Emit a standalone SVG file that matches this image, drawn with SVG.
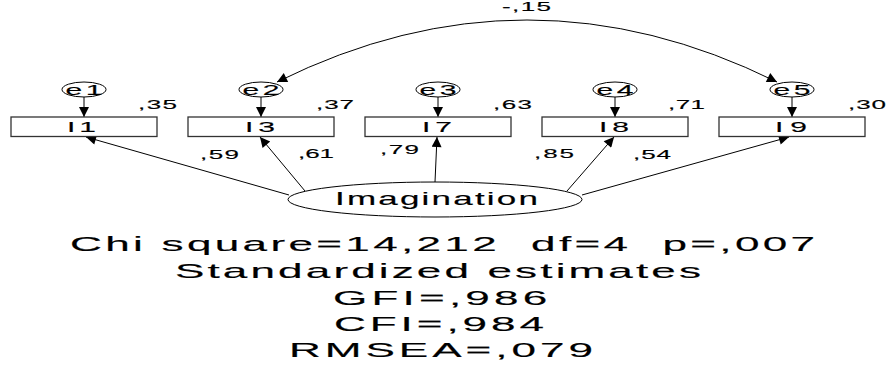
<svg xmlns="http://www.w3.org/2000/svg" width="888" height="368" viewBox="0 0 888 368">
<style>
text{font-family:"Liberation Sans",Arial,sans-serif;fill:#000;white-space:pre;stroke:#000;stroke-width:0.15}
.box{fill:#fff;stroke:#333;stroke-width:1.3}
.err{fill:#fff;stroke:#000;stroke-width:1}
.lat{fill:#fff;stroke:#000;stroke-width:1}
.c{fill:none;stroke:#000;stroke-width:1}
.lab{font-size:13px}
.obs{font-size:15px}
.big{font-size:21px;stroke-width:0.15}
</style>
<defs>
<marker id="ah" viewBox="0 0 10 10" refX="10" refY="5" markerWidth="12" markerHeight="10" markerUnits="userSpaceOnUse" orient="auto-start-reverse">
<path d="M0,0 L10,5 L0,10 z" fill="#000"/>
</marker>
</defs>
<rect width="888" height="368" fill="#fff"/>

<g id="connectors">
<path class="c" d="M84,97 L84,117" marker-end="url(#ah)"/>
<path class="c" d="M261,97 L261,117" marker-end="url(#ah)"/>
<path class="c" d="M438,97 L438,117" marker-end="url(#ah)"/>
<path class="c" d="M615,97 L615,117" marker-end="url(#ah)"/>
<path class="c" d="M792,97 L792,117" marker-end="url(#ah)"/>
<path class="c" d="M289,195 L86,137" marker-end="url(#ah)"/>
<path class="c" d="M305,191 L260,137" marker-end="url(#ah)"/>
<path class="c" d="M435,182 L437,137" marker-end="url(#ah)"/>
<path class="c" d="M567,191 L614,137" marker-end="url(#ah)"/>
<path class="c" d="M582,195 L789,137" marker-end="url(#ah)"/>
<path class="c" d="M277,82 Q527,-42 777,82" marker-start="url(#ah)" marker-end="url(#ah)"/>
<text class="lab" transform="translate(502,11) scale(2,1)" textLength="24.5" lengthAdjust="spacing">-,15</text>
<text class="lab" transform="translate(200,159) scale(2,1)" textLength="19.5" lengthAdjust="spacing">,59</text>
<text class="lab" transform="translate(298,158) scale(2,1)" textLength="18" lengthAdjust="spacing">,61</text>
<text class="lab" transform="translate(380,154) scale(2,1)" textLength="19.5" lengthAdjust="spacing">,79</text>
<text class="lab" transform="translate(534,158) scale(2,1)" textLength="20" lengthAdjust="spacing">,85</text>
<text class="lab" transform="translate(633,159) scale(2,1)" textLength="19" lengthAdjust="spacing">,54</text>
</g>

<g id="e1"><ellipse class="err" cx="84" cy="89.5" rx="22" ry="7.5"/><text class="obs" transform="translate(65.5,95) scale(2,1)" textLength="18.5" lengthAdjust="spacing">e1</text></g>
<g id="e2"><ellipse class="err" cx="261" cy="89.5" rx="22" ry="7.5"/><text class="obs" transform="translate(242.5,95) scale(2,1)" textLength="18.5" lengthAdjust="spacing">e2</text></g>
<g id="e3"><ellipse class="err" cx="438" cy="89.5" rx="22" ry="7.5"/><text class="obs" transform="translate(419.5,95) scale(2,1)" textLength="18.5" lengthAdjust="spacing">e3</text></g>
<g id="e4"><ellipse class="err" cx="615" cy="89.5" rx="22" ry="7.5"/><text class="obs" transform="translate(596.5,95) scale(2,1)" textLength="18.5" lengthAdjust="spacing">e4</text></g>
<g id="e5"><ellipse class="err" cx="792" cy="89.5" rx="22" ry="7.5"/><text class="obs" transform="translate(773.5,95) scale(2,1)" textLength="18.5" lengthAdjust="spacing">e5</text></g>

<g id="I1"><rect class="box" x="11" y="117" width="146" height="19.5"/><text class="obs" transform="translate(67,131.5) scale(2,1)" textLength="14.5" lengthAdjust="spacing">I1</text><text class="lab" transform="translate(138,109) scale(2,1)" textLength="19.5" lengthAdjust="spacing">,35</text></g>
<g id="I3"><rect class="box" x="188" y="117" width="146" height="19.5"/><text class="obs" transform="translate(245,131.5) scale(2,1)" textLength="15" lengthAdjust="spacing">I3</text><text class="lab" transform="translate(316,109) scale(2,1)" textLength="19" lengthAdjust="spacing">,37</text></g>
<g id="I7"><rect class="box" x="365" y="117" width="146" height="19.5"/><text class="obs" transform="translate(422,131.5) scale(2,1)" textLength="15" lengthAdjust="spacing">I7</text><text class="lab" transform="translate(493,109) scale(2,1)" textLength="19.5" lengthAdjust="spacing">,63</text></g>
<g id="I8"><rect class="box" x="542" y="117" width="146" height="19.5"/><text class="obs" transform="translate(599,131.5) scale(2,1)" textLength="15" lengthAdjust="spacing">I8</text><text class="lab" transform="translate(668,109) scale(2,1)" textLength="18.5" lengthAdjust="spacing">,71</text></g>
<g id="I9"><rect class="box" x="719" y="117" width="146" height="19.5"/><text class="obs" transform="translate(775,131.5) scale(2,1)" textLength="16" lengthAdjust="spacing">I9</text><text class="lab" transform="translate(848,109) scale(2,1)" textLength="19" lengthAdjust="spacing">,30</text></g>

<g id="Imagination"><ellipse class="lat" cx="435" cy="199.5" rx="147" ry="17.5"/><text transform="translate(335,205) scale(2,1)" font-size="17.5" textLength="101.5" lengthAdjust="spacing">Imagination</text></g>

<g id="fit">
<text class="big" transform="translate(70,251) scale(2.1,1)" textLength="354.8" lengthAdjust="spacing">Chi square=14,212  df=4  p=,007</text>
<text class="big" transform="translate(175,278) scale(2.1,1)" textLength="250.5" lengthAdjust="spacing">Standardized estimates</text>
<text class="big" transform="translate(333,305) scale(2.1,1)" textLength="102" lengthAdjust="spacing">GFI=,986</text>
<text class="big" transform="translate(334,331) scale(2.1,1)" textLength="100" lengthAdjust="spacing">CFI=,984</text>
<text class="big" transform="translate(289,357) scale(2.1,1)" textLength="144.8" lengthAdjust="spacing">RMSEA=,079</text>
</g>
</svg>
